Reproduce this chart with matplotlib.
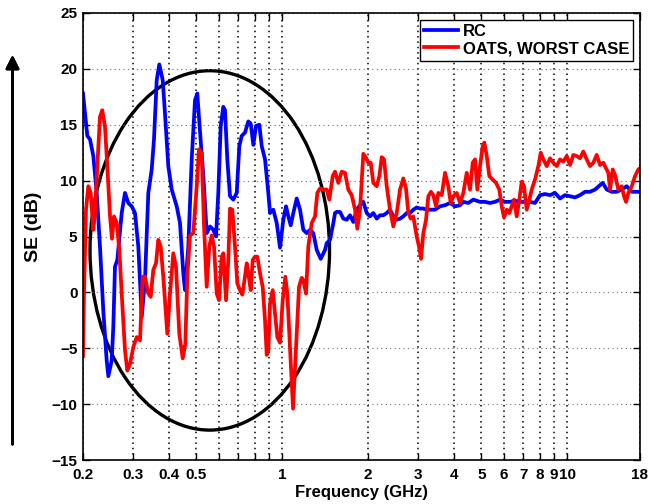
import matplotlib
matplotlib.use('Agg')
import matplotlib.pyplot as plt
from matplotlib.patches import Ellipse
from matplotlib.ticker import NullLocator

plt.rcParams['font.family'] = ['Liberation Sans', 'DejaVu Sans']
plt.rcParams['font.weight'] = 'bold'

# RC measurement (frequency in GHz, SE in dB)
rc_freq = [0.2000, 0.2033, 0.2071, 0.2116, 0.2174, 0.2234, 0.2294, 0.2356, 0.2422, 0.2454,
           0.2522, 0.2555, 0.2590, 0.2639, 0.2734, 0.2808, 0.2884, 0.2964, 0.3044, 0.3127,
           0.3214, 0.3300, 0.3390, 0.3484, 0.3549, 0.3628, 0.3705, 0.3808, 0.3879, 0.3984,
           0.4095, 0.4264, 0.4379, 0.4497, 0.4560, 0.4683, 0.4813, 0.4943, 0.5036, 0.5126,
           0.5286, 0.5433, 0.5580, 0.5731, 0.5857, 0.5967, 0.6084, 0.6213, 0.6299, 0.6417,
           0.6559, 0.6736, 0.6924, 0.7071, 0.7209, 0.7404, 0.7604, 0.7753, 0.7918, 0.8092,
           0.8311, 0.8474, 0.8703, 0.8938, 0.9061, 0.9306, 0.9565, 0.9824, 1.0089, 1.0312,
           1.0505, 1.0711, 1.0938, 1.1243, 1.1547, 1.1859, 1.2189, 1.2518, 1.2856, 1.3214,
           1.3648, 1.4131, 1.4326, 1.4714, 1.5111, 1.5320, 1.5532, 1.5951, 1.6382, 1.6839,
           1.7294, 1.7761, 1.8256, 1.8749, 1.9255, 1.9792, 2.0326, 2.0876, 2.1457, 2.2037,
           2.2632, 2.3263, 2.3891, 2.4537, 2.5220, 2.5901, 2.6601, 2.7342, 2.8081, 2.8840,
           2.9643, 3.0444, 3.1266, 3.2137, 3.3005, 3.4366, 3.578, 3.726, 3.879, 4.039,
           4.206, 4.319, 4.497, 4.683, 4.943, 5.147, 5.359, 5.580, 5.810, 6.050,
           6.299, 6.559, 6.829, 7.110, 7.404, 7.709, 8.027, 8.357, 8.702, 9.061,
           9.434, 9.823, 10.228, 10.650, 11.089, 11.546, 12.022, 12.517, 13.033, 13.32,
           13.76, 14.33, 14.92, 15.53, 16.17, 16.84, 17.53, 18.0]
rc_se = [17.8, 16.0, 14.0, 13.7, 12.2, 8.9, 4.1, -1.6, -6.1, -7.5,
         -6.1, -3.1, 2.3, 2.9, 7.1, 8.9, 8.0, 7.7, 7.1, 4.1,
         -2.2, 1.1, 8.9, 11.0, 13.7, 19.0, 20.4, 19.0, 16.0, 11.3,
         9.2, 7.7, 6.2, 1.7, 0.2, 4.1, 11.9, 17.2, 17.8, 15.0,
         10.5, 5.3, 5.9, 5.6, 5.0, 8.9, 14.9, 16.6, 16.3, 11.9,
         8.6, 8.3, 8.9, 13.1, 14.0, 14.3, 15.3, 15.1, 13.2, 14.9,
         15.0, 13.1, 11.9, 8.9, 7.1, 7.4, 6.2, 4.0, 6.5, 7.7,
         6.8, 6.0, 7.1, 8.4, 7.4, 5.6, 5.3, 5.6, 5.3, 3.8,
         3.0, 3.8, 4.4, 4.7, 6.2, 7.1, 7.2, 7.2, 6.6, 6.5,
         6.9, 6.3, 7.4, 7.8, 8.1, 7.1, 6.8, 7.1, 6.6, 6.9,
         6.9, 7.1, 7.4, 6.8, 6.5, 6.6, 6.8, 7.1, 7.1, 7.4,
         7.6, 7.5, 7.5, 7.4, 7.4, 7.4, 7.7, 7.8, 8.0, 7.7,
         7.8, 8.1, 8.0, 8.3, 8.1, 8.1, 8.0, 8.1, 8.3, 8.1,
         8.1, 8.2, 8.1, 8.1, 8.1, 8.0, 8.7, 8.8, 8.7, 8.9,
         8.4, 8.7, 8.6, 8.5, 8.7, 9.0, 9.0, 9.2, 9.6, 9.8,
         9.2, 9.0, 9.0, 9.2, 9.5, 9.0, 9.0, 9.0]

# OATS worst case
oats_freq = [0.2000, 0.2016, 0.2049, 0.2088, 0.2128, 0.2174, 0.2204, 0.2245, 0.2294, 0.2337,
             0.2389, 0.2434, 0.2488, 0.2528, 0.2569, 0.2626, 0.2682, 0.2734, 0.2808, 0.2861,
             0.2924, 0.3003, 0.3086, 0.3170, 0.3240, 0.3300, 0.3390, 0.3456, 0.3529, 0.3607,
             0.3675, 0.3747, 0.3826, 0.3952, 0.4039, 0.4148, 0.4240, 0.4354, 0.4476, 0.4571,
             0.4645, 0.4747, 0.4876, 0.5012, 0.5106, 0.5218, 0.5316, 0.5433, 0.5549, 0.5657,
             0.5764, 0.5891, 0.6001, 0.6133, 0.6213, 0.6350, 0.6469, 0.6559, 0.6682, 0.6829,
             0.6957, 0.7111, 0.7244, 0.7345, 0.7507, 0.7604, 0.7753, 0.7879, 0.8027, 0.8178,
             0.8358, 0.8542, 0.8703, 0.8823, 0.8938, 0.9061, 0.9261, 0.9435, 0.9612, 0.9824,
             1.0040, 1.0254, 1.0421, 1.0650, 1.0912, 1.1243, 1.1454, 1.1706, 1.1859, 1.2120,
             1.2347, 1.2691, 1.3034, 1.3279, 1.3571, 1.3938, 1.4326, 1.4630, 1.5038, 1.5320,
             1.5734, 1.6170, 1.6607, 1.7055, 1.7533, 1.8007, 1.8344, 1.8749, 1.9255, 1.9632,
             2.0049, 2.0442, 2.0876, 2.1457, 2.1913, 2.2342, 2.2761, 2.3263, 2.3891, 2.4537,
             2.5220, 2.5901, 2.6601, 2.7188, 2.7698, 2.8240, 2.8840, 2.9643, 3.0199, 3.0691,
             3.1266, 3.1955, 3.2555, 3.3273, 3.3897, 3.4644, 3.5294, 3.6277, 3.726, 3.8264,
             3.9014, 3.9842, 4.0952, 4.206, 4.319, 4.4396, 4.5596, 4.660, 4.748, 4.837,
             4.943, 5.052, 5.118, 5.218, 5.329, 5.477, 5.625, 5.777, 5.890, 6.001,
             6.133, 6.263, 6.386, 6.506, 6.649, 6.790, 6.923, 7.053, 7.209, 7.362,
             7.506, 7.709, 7.917, 8.072, 8.243, 8.473, 8.702, 8.937, 9.186, 9.434,
             9.689, 9.959, 10.228, 10.504, 10.797, 11.089, 11.388, 11.705, 12.022, 12.346,
             12.690, 13.033, 13.385, 13.680, 13.937, 14.130, 14.441, 14.712, 15.110, 15.53,
             15.823, 16.081, 16.382, 16.84, 17.293, 17.761, 18.0]
oats_se = [-5.7, -0.1, 7.4, 9.5, 8.9, 5.6, 7.1, 11.3, 15.7, 16.3,
           14.8, 11.3, 6.8, 4.8, 6.8, 6.2, 3.8, -0.1, -5.2, -7.0,
           -6.4, -4.9, -4.0, -4.3, 1.4, 1.4, -0.1, -0.4, 2.0, 2.6,
           4.7, 4.1, 1.4, -3.7, -0.1, 3.5, 2.3, -3.7, -5.9, -4.6,
           1.4, 5.1, 5.3, 9.5, 12.8, 12.5, 6.0, 0.5, 4.1, 5.1,
           4.1, -0.1, -0.7, 3.2, 3.5, -0.7, 2.9, 7.5, 7.4, 4.1,
           0.8, 0.2, -0.2, 0.8, 2.6, 1.7, 0.2, 2.9, 3.2, 3.2,
           1.7, 0.5, -2.5, -5.6, -5.2, -1.0, 0.2, -1.9, -4.0, -4.5,
           -0.7, 1.4, -0.1, -4.9, -10.4, -3.7, 0.5, 1.3, 1.1, -0.1,
           4.1, 6.2, 6.8, 8.9, 9.3, 9.2, 9.2, 8.3, 10.4, 10.8,
           9.8, 10.8, 10.7, 9.2, 8.7, 7.4, 5.7, 7.4, 12.4, 12.1,
           11.6, 11.6, 9.8, 9.5, 10.4, 12.1, 11.9, 9.5, 7.4, 5.9,
           7.1, 9.2, 10.2, 9.3, 7.1, 6.6, 6.8, 5.0, 4.1, 3.0,
           5.3, 6.5, 8.6, 9.0, 8.7, 7.7, 8.9, 8.7, 10.7, 9.5,
           8.0, 8.6, 8.9, 8.0, 8.9, 10.7, 9.2, 11.6, 11.9, 9.2,
           11.3, 13.1, 13.4, 12.2, 10.4, 10.1, 9.8, 9.2, 7.7, 6.7,
           7.4, 7.1, 7.7, 8.3, 6.8, 8.3, 9.9, 9.5, 7.4, 8.3,
           9.2, 10.1, 11.3, 12.5, 11.9, 11.3, 12.0, 11.6, 11.3, 11.9,
           11.7, 12.2, 11.4, 12.3, 12.2, 12.0, 12.6, 11.9, 11.3, 11.6,
           12.3, 11.4, 11.6, 11.1, 10.7, 9.2, 11.0, 10.5, 9.2, 9.5,
           8.6, 8.1, 8.9, 9.5, 10.4, 11.0, 11.1]

x_ticks = [0.2, 0.3, 0.4, 0.5, 0.6, 0.7, 0.8, 0.9, 1, 2, 3, 4, 5, 6, 7, 8, 9, 10, 18]
x_labels = ['0.2', '0.3', '0.4', '0.5', '', '', '', '', '1', '2', '3', '4', '5',
            '6', '7', '8', '9', '10', '18']
y_ticks = [-15, -10, -5, 0, 5, 10, 15, 20, 25]

fig = plt.figure(figsize=(6.5, 5.04), dpi=100)
ax = fig.add_axes([83 / 650, 44 / 504, 557 / 650, 447 / 504])

ax.plot(rc_freq, rc_se, color='blue', lw=2.7, label='RC')
ax.plot(oats_freq, oats_se, color='red', lw=2.7, label='OATS, WORST CASE')

ax.set_xscale('log')
ax.set_xlim(0.2, 18)
ax.set_ylim(-15, 25)
ax.set_xticks(x_ticks)
ax.set_xticklabels(x_labels)
ax.xaxis.set_minor_locator(NullLocator())
ax.set_yticks(y_ticks)

ax.tick_params(direction='in', top=True, right=True, labelsize=11, length=5, width=1)
ax.tick_params(axis='x', pad=6)
ax.tick_params(axis='y', pad=4)
for lab in ax.get_xticklabels() + ax.get_yticklabels():
    lab.set_fontweight('bold')

ax.xaxis.grid(True, linestyle=(0, (1, 2.5)), color='black', lw=1.1)
ax.yaxis.grid(True, linestyle=(0, (1, 3)), color='0.45', lw=0.8)
for s in ax.spines.values():
    s.set_linewidth(1.2)

# circle around the low frequency region
ell = Ellipse((0.2276, 0.4689), 0.430, 0.804, transform=ax.transAxes,
              fill=False, edgecolor='black', lw=2.4)
ax.add_patch(ell)

leg = ax.legend(loc='upper right', fancybox=False, edgecolor='black',
                prop={'weight': 'bold', 'size': 12}, handlelength=2.0,
                handletextpad=0.3, labelspacing=0.15, borderpad=0.25,
                borderaxespad=0.4, framealpha=1)
leg.get_frame().set_linewidth(1)

fig.text(361.5 / 650, 1 - 493 / 504, 'Frequency (GHz)', ha='center', va='center',
         fontsize=12, fontweight='bold')
fig.text(33 / 650, 1 - 227 / 504, 'SE (dB)', rotation=90, ha='center', va='center',
         fontsize=14, fontweight='bold')

# arrow along the SE axis
fig.add_artist(plt.annotate('', xy=(12.5 / 650, 1 - 52 / 504), xytext=(12.5 / 650, 1 - 447 / 504),
                            xycoords='figure fraction', textcoords='figure fraction',
                            arrowprops=dict(arrowstyle='-|>', color='black', lw=2,
                                            mutation_scale=20)))

fig.savefig('out.png', dpi=100)
